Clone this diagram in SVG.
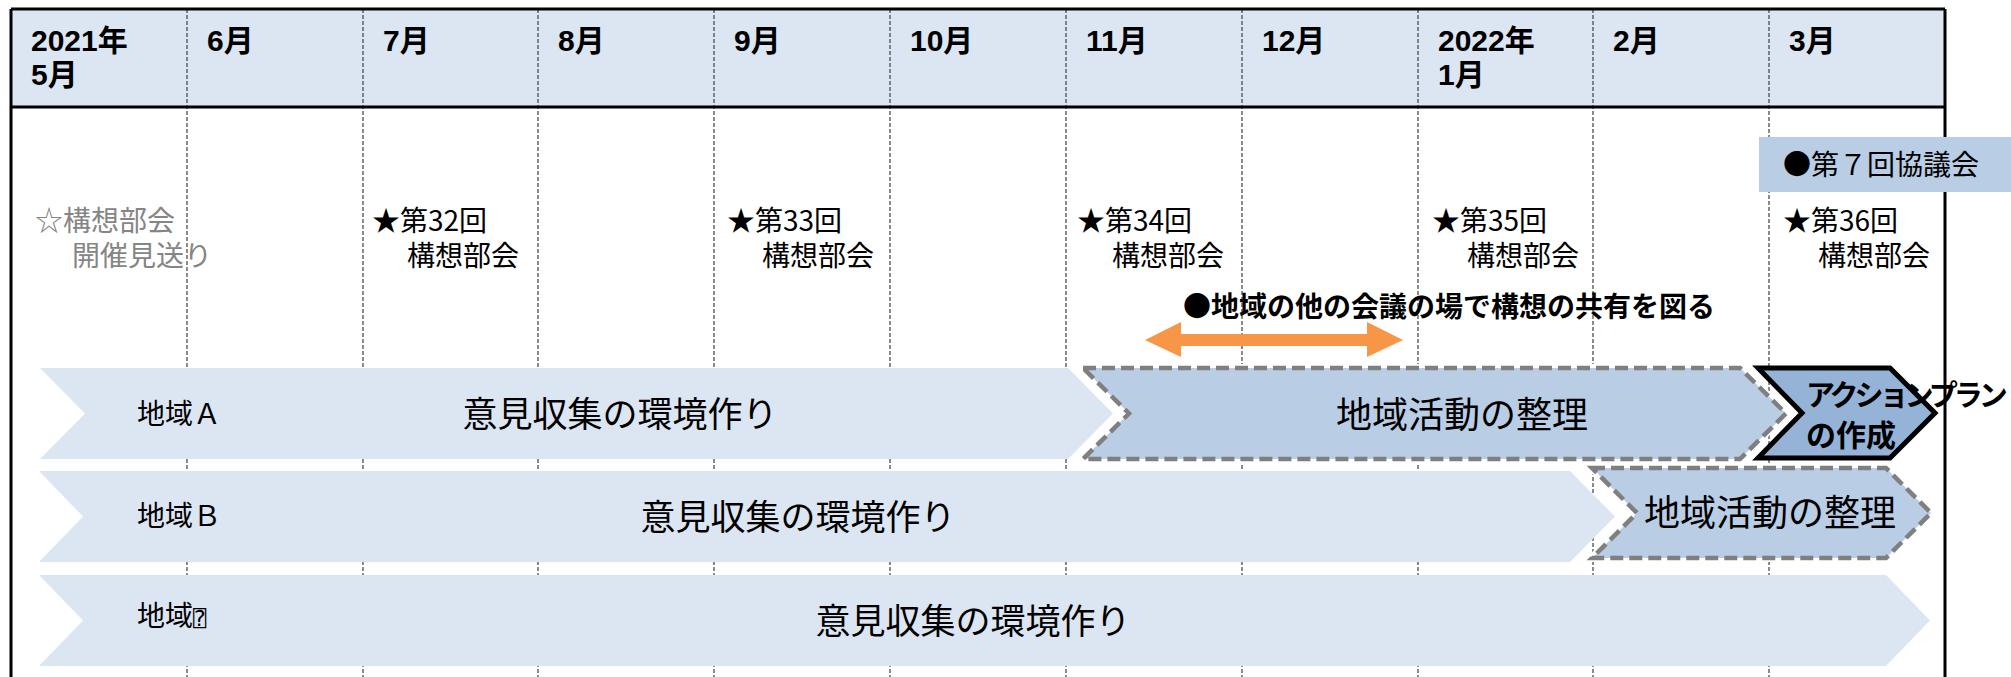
<svg xmlns="http://www.w3.org/2000/svg" width="2011" height="677" viewBox="0 0 2011 677">
<style>
.hdr{font-family:"Liberation Sans","Noto Sans CJK JP",sans-serif;font-weight:bold;font-size:30px;fill:#000}
.t{font-family:"Noto Sans CJK JP",sans-serif;font-size:28px;fill:#000}
.gray{fill:#858585}
.band{fill:#DCE6F2}
.big{font-family:"Noto Sans CJK JP",sans-serif;font-size:35px;fill:#000;text-anchor:middle}
.mid{fill:#B9CDE5}
.dash{fill:none;stroke:#7F7F7F;stroke-width:4.5;stroke-dasharray:13 6}
.halo{fill:none;stroke:#fff;stroke-width:8}
.grid{stroke:#404040;stroke-width:1.2;stroke-dasharray:4 2;fill:none}
.frame{stroke:#000;stroke-width:3;fill:none}
.bold{font-family:"Noto Sans CJK JP",sans-serif;font-weight:bold;font-size:28px;fill:#000}
</style>
<rect width="2011" height="677" fill="#fff"/>
<g id="header">
<rect x="11" y="9" width="1934" height="98" fill="#DCE6F2"/>
</g>
<g id="grid">
<line class="grid" x1="187" y1="9" x2="187" y2="677"/>
<line class="grid" x1="363" y1="9" x2="363" y2="677"/>
<line class="grid" x1="538" y1="9" x2="538" y2="677"/>
<line class="grid" x1="714" y1="9" x2="714" y2="677"/>
<line class="grid" x1="890" y1="9" x2="890" y2="677"/>
<line class="grid" x1="1066" y1="9" x2="1066" y2="677"/>
<line class="grid" x1="1242" y1="9" x2="1242" y2="677"/>
<line class="grid" x1="1418" y1="9" x2="1418" y2="677"/>
<line class="grid" x1="1593" y1="9" x2="1593" y2="677"/>
<line class="grid" x1="1769" y1="9" x2="1769" y2="677"/>
<line class="frame" x1="11" y1="9" x2="1945" y2="9"/>
<line class="frame" x1="11" y1="107" x2="1945" y2="107"/>
<line class="frame" x1="11" y1="9" x2="11" y2="677"/>
<line class="frame" x1="1945" y1="9" x2="1945" y2="677"/>
</g>
<g id="months">
<text class="hdr" x="31" y="51">2021年</text>
<text class="hdr" x="31" y="85">5月</text>
<text class="hdr" x="207" y="51">6月</text>
<text class="hdr" x="383" y="51">7月</text>
<text class="hdr" x="558" y="51">8月</text>
<text class="hdr" x="734" y="51">9月</text>
<text class="hdr" x="910" y="51">10月</text>
<text class="hdr" x="1086" y="51">11月</text>
<text class="hdr" x="1262" y="51">12月</text>
<text class="hdr" x="1438" y="51">2022年</text>
<text class="hdr" x="1438" y="85">1月</text>
<text class="hdr" x="1613" y="51">2月</text>
<text class="hdr" x="1789" y="51">3月</text>
</g>
<g id="meetings">
<text class="t gray" x="35" y="231">☆構想部会</text>
<text class="t gray" x="72" y="266">開催見送り</text>
<text class="t" x="372" y="231">★第32回</text>
<text class="t" x="407" y="266">構想部会</text>
<text class="t" x="727" y="231">★第33回</text>
<text class="t" x="762" y="266">構想部会</text>
<text class="t" x="1077" y="231">★第34回</text>
<text class="t" x="1112" y="266">構想部会</text>
<text class="t" x="1432" y="231">★第35回</text>
<text class="t" x="1467" y="266">構想部会</text>
<text class="t" x="1783" y="231">★第36回</text>
<text class="t" x="1818" y="266">構想部会</text>
</g>
<g id="kyogikai">
<rect x="1759" y="137" width="252" height="55" fill="#B9CDE5"/>
<text class="t" x="1783" y="175">●第７回協議会</text>
</g>
<g id="share">
<text class="bold" x="1183" y="317">●地域の他の会議の場で構想の共有を図る</text>
</g>
<g id="connectors">
<polygon fill="#F79646" points="1145,340 1181,322 1181,334 1367,334 1367,322 1403,340 1367,357 1367,346 1181,346 1181,357"/>
</g>
<g id="rowA">
<polygon class="band" points="40,368 1068,368 1113,413.5 1068,459 40,459 85,413.5"/>
<text class="t" x="137" y="424">地域Ａ</text>
<text class="big" x="620" y="427">意見収集の環境作り</text>
</g>
<g id="rowA-seiri">
<polygon class="halo" points="1083,368 1740,368 1786,413.5 1740,459 1083,459 1129,413.5"/>
<polygon class="mid" points="1083,368 1740,368 1786,413.5 1740,459 1083,459 1129,413.5"/>
<polygon class="dash" points="1083,368 1740,368 1786,413.5 1740,459 1083,459 1129,413.5"/>
<text class="big" x="1462" y="428" style="font-size:36px">地域活動の整理</text>
</g>
<g id="rowA-action">
<polygon fill="#95B3D7" stroke="#000" stroke-width="5" stroke-linejoin="miter" points="1758,368 1890,368 1935,413 1890,458 1758,458 1802,413"/>
<text class="bold" x="1806" y="406" style="font-size:29px;letter-spacing:-4px">アクションプラン</text>
<text class="bold" x="1806" y="446" style="font-size:30px">の作成</text>
</g>
<g id="rowB">
<polygon class="band" points="39,471 1570,471 1615,516.5 1570,562 39,562 83,516.5"/>
<text class="t" x="137" y="526">地域Ｂ</text>
<text class="big" x="798" y="530">意見収集の環境作り</text>
</g>
<g id="rowB-seiri">
<polygon class="halo" points="1592,468 1886,468 1931,513 1886,558 1592,558 1637,513"/>
<polygon class="mid" points="1592,468 1886,468 1931,513 1886,558 1592,558 1637,513"/>
<polygon class="dash" points="1592,468 1886,468 1931,513 1886,558 1592,558 1637,513"/>
<text class="big" x="1770" y="526" style="font-size:36px">地域活動の整理</text>
</g>
<g id="rowC">
<polygon class="band" points="39,575 1886,575 1930,620.5 1886,666 39,666 83,620.5"/>
<text class="t" x="137" y="626">地域<tspan style="font-family:'DejaVu Sans Mono','DejaVu Sans',sans-serif;font-size:22px">⍰</tspan></text>
<text class="big" x="973" y="634">意見収集の環境作り</text>
</g>
</svg>
